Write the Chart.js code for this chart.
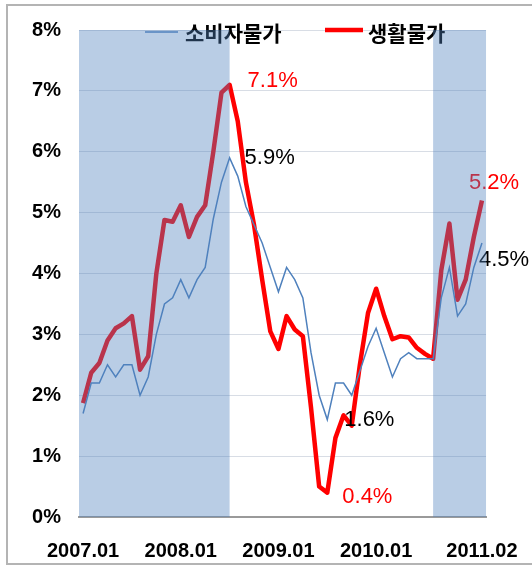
<!DOCTYPE html>
<html>
<head>
<meta charset="utf-8">
<script src="https://cdn.jsdelivr.net/npm/chart.js@4"></script>
<style>
html, body { margin: 0; padding: 0; background: #fff; }
</style>
</head>
<body>
<canvas id="myChart" width="532" height="569"></canvas>
<script>
// monthly categories 2007.01 .. 2011.02
var months = [];
for (var yr = 2007; yr <= 2011; yr++) {
    for (var m = 1; m <= 12; m++) {
        if (yr === 2011 && m > 2) break;
        months.push(yr + '.' + (m < 10 ? '0' + m : m));
    }
}
var tickLabels = ['2007.01', '2008.01', '2009.01', '2010.01', '2011.02'];
var seriesNames = ['소비자물가', '생활물가'];

var cpi = [
    1.7, 2.2, 2.2, 2.5, 2.3, 2.5, 2.5, 2.0, 2.3, 3.0, 3.5, 3.6,
    3.9, 3.6, 3.9, 4.1, 4.9, 5.5, 5.9, 5.6, 5.1, 4.8, 4.5, 4.1,
    3.7, 4.1, 3.9, 3.6, 2.7, 2.0, 1.6, 2.2, 2.2, 2.0, 2.4, 2.8,
    3.1, 2.7, 2.3, 2.6, 2.7, 2.6, 2.6, 2.6, 3.6, 4.1, 3.3, 3.5,
    4.1, 4.5
];
var living = [
    1.87, 2.37, 2.53, 2.9, 3.1, 3.18, 3.3, 2.42, 2.64, 4.0, 4.88, 4.85,
    5.12, 4.6, 4.93, 5.12, 6.0, 6.97, 7.1, 6.5, 5.5, 4.8, 3.9, 3.05,
    2.76, 3.3, 3.08, 2.97, 1.8, 0.5, 0.4, 1.3, 1.67, 1.5, 2.5, 3.35,
    3.75, 3.3, 2.92, 2.97, 2.95, 2.78, 2.68, 2.6, 4.05, 4.82, 3.57, 3.9,
    4.6, 5.2
];

// shaded periods (first/last month stretch to the plot edge)
var shadedRanges = [['2007.01', '2008.07'], ['2010.08', '2011.02']];

// value callouts: dataset index, month, text
var callouts = [
    [1, '2008.07', '7.1%'],
    [0, '2008.07', '5.9%'],
    [1, '2011.02', '5.2%'],
    [0, '2011.02', '4.5%'],
    [0, '2009.07', '1.6%'],
    [1, '2009.07', '0.4%']
];
var calloutOffsets = [[18, -4], [15, 0], [-13, -18], [-3, 17], [17, 0], [15, 4]];

var blue = '#4f81bd';
var red = '#ff0000';

var decor = {
    id: 'decor',
    beforeDraw: function (chart) {
        var c = chart.ctx;
        c.save();
        c.strokeStyle = '#b4b4b4';
        c.lineWidth = 2;
        c.strokeRect(7, 5, 560, 559);
        c.restore();
    },
    afterDatasetsDraw: function (chart) {
        var c = chart.ctx;
        c.save();
        // legend
        c.textBaseline = 'middle';
        c.textAlign = 'left';
        c.font = 'bold 21px "Noto Sans CJK KR"';
        c.strokeStyle = blue;
        c.lineWidth = 1.5;
        c.beginPath(); c.moveTo(145, 32); c.lineTo(178, 32); c.stroke();
        c.fillStyle = '#000';
        c.fillText(seriesNames[0], 185, 33);
        c.strokeStyle = red;
        c.lineWidth = 4.5;
        c.beginPath(); c.moveTo(325, 30); c.lineTo(363, 30); c.stroke();
        c.fillText(seriesNames[1], 368, 33);

        // callouts
        c.font = '22px "Liberation Sans", Arial';
        callouts.forEach(function (co, k) {
            var pt = chart.getDatasetMeta(co[0]).data[months.indexOf(co[1])];
            c.fillStyle = co[0] === 1 ? red : '#000';
            c.fillText(co[2], pt.x + calloutOffsets[k][0], pt.y + calloutOffsets[k][1]);
        });
        c.restore();
    },
    afterDraw: function (chart) {
        var c = chart.ctx, a = chart.chartArea, xs = chart.scales.x;
        c.save();
        c.fillStyle = 'rgba(79,129,189,0.4)';
        shadedRanges.forEach(function (r) {
            var i0 = months.indexOf(r[0]), i1 = months.indexOf(r[1]);
            var x0 = i0 === 0 ? a.left : xs.getPixelForValue(i0);
            var x1 = i1 === months.length - 1 ? a.right : xs.getPixelForValue(i1);
            c.fillRect(x0, a.top, x1 - x0, a.bottom - a.top);
        });
        c.restore();
    }
};

var ctx = document.getElementById('myChart').getContext('2d');
var myChart = new Chart(ctx, {
    type: 'line',
    data: {
        labels: months,
        datasets: [{
            label: seriesNames[0],
            data: cpi,
            borderColor: blue,
            borderWidth: 1.5,
            pointRadius: 0,
            tension: 0
        }, {
            label: seriesNames[1],
            data: living,
            borderColor: red,
            borderWidth: 4.5,
            borderJoinStyle: 'round',
            pointRadius: 0,
            tension: 0
        }]
    },
    options: {
        responsive: false,
        animation: false,
        layout: { padding: { top: 27, right: 44, left: 0, bottom: 0 } },
        plugins: {
            legend: { display: false },
            tooltip: { enabled: false }
        },
        scales: {
            x: {
                offset: true,
                grid: { display: false },
                border: { color: '#9a9a9a', width: 2 },
                ticks: {
                    autoSkip: false,
                    maxRotation: 0,
                    padding: 14,
                    color: '#000',
                    font: { family: '"Liberation Sans", Arial', size: 20, weight: 'bold' },
                    callback: function (v, i) {
                        return tickLabels.indexOf(months[i]) >= 0 ? months[i] : '';
                    }
                },
                afterFit: function (s) { s.height = 52; }
            },
            y: {
                min: 0,
                max: 8,
                border: { display: false },
                grid: { color: '#d8dde5', drawTicks: false },
                ticks: {
                    stepSize: 1,
                    padding: 18,
                    color: '#000',
                    font: { family: '"Liberation Sans", Arial', size: 20, weight: 'bold' },
                    callback: function (v) { return v + '%'; }
                },
                afterFit: function (s) { s.width = 79; }
            }
        }
    },
    plugins: [decor]
});
</script>
</body>
</html>
